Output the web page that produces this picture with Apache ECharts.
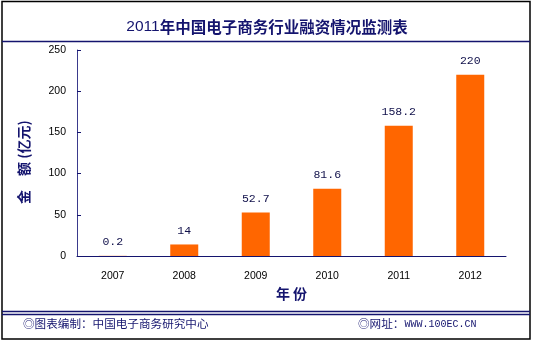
<!DOCTYPE html>
<html>
<head>
<meta charset="utf-8">
<script src="https://cdn.jsdelivr.net/npm/echarts@6/dist/echarts.min.js"></script>
<style>
html,body{margin:0;padding:0;background:#fff;}
#c{width:534px;height:343px;}
</style>
</head>
<body>
<div id="c"></div>
<script>
var categories = ['2007', '2008', '2009', '2010', '2011', '2012'];
var values = [0.2, 14, 52.7, 81.6, 158.2, 220];
var valueLabels = ['0.2', '14', '52.7', '81.6', '158.2', '220'];
var titleYear = '2011';
var titleRest = '年中国电子商务行业融资情况监测表';
var yName = '金　额 (亿元)';
var xName = '年 份';
var footLeft = '◎图表编制：中国电子商务研究中心';
var footRightCn = '◎网址：';
var footRightUrl = 'WWW.100EC.CN';

var navy = '#14146e';
var chart = echarts.init(document.getElementById('c'), null, {renderer: 'canvas'});
chart.setOption({
  animation: false,
  backgroundColor: '#ffffff',
  title: {
    text: '{a|' + titleYear + '}{b|' + titleRest + '}',
    left: 'center',
    top: 14,
    textStyle: {
      rich: {
        a: {fontFamily: 'Liberation Sans, Arial, sans-serif', fontSize: 15.5, color: navy, fontWeight: 'normal'},
        b: {fontFamily: 'Noto Sans CJK SC', fontSize: 15.5, color: navy, fontWeight: 'bold'}
      }
    }
  },
  grid: {left: 77, right: 28, top: 50, bottom: 87},
  xAxis: {
    type: 'category',
    data: categories,
    axisLine: {lineStyle: {color: navy, width: 1}},
    axisTick: {inside: true, length: 5, lineStyle: {color: navy}},
    axisLabel: {color: '#000', fontFamily: 'Liberation Sans, Arial, sans-serif', fontSize: 10.5, margin: 15},
    name: xName,
    nameLocation: 'middle',
    nameGap: 30,
    nameTextStyle: {color: navy, fontFamily: 'Noto Sans CJK SC', fontSize: 14, fontWeight: 'bold'}
  },
  yAxis: {
    type: 'value',
    min: 0, max: 250, interval: 50,
    axisLine: {show: true, lineStyle: {color: '#3a3a8c', width: 1}},
    axisTick: {show: true, inside: true, length: 4, lineStyle: {color: navy}},
    splitLine: {show: false},
    axisLabel: {color: '#000', fontFamily: 'Liberation Sans, Arial, sans-serif', fontSize: 10.5, margin: 11}
  },
  series: [{
    type: 'bar',
    data: values,
    barWidth: 28,
    itemStyle: {color: '#ff6600'},
    label: {
      show: true,
      position: 'top',
      distance: 8,
      color: '#10104a',
      fontFamily: 'Liberation Mono, DejaVu Sans Mono, monospace',
      fontSize: 11.5,
      formatter: function (p) { return valueLabels[p.dataIndex]; }
    }
  }],
  graphic: [
    {type: 'rect', shape: {x: 2, y: 1.5, width: 528, height: 337.5}, style: {fill: 'none', stroke: '#000', lineWidth: 1.5}, silent: true},
    {type: 'line', shape: {x1: 2, y1: 41.5, x2: 530, y2: 41.5}, style: {stroke: navy, lineWidth: 1.5}, silent: true},
    {type: 'line', shape: {x1: 2, y1: 311.5, x2: 530, y2: 311.5}, style: {stroke: navy, lineWidth: 1.3}, silent: true},
    {type: 'line', shape: {x1: 2, y1: 314.5, x2: 530, y2: 314.5}, style: {stroke: navy, lineWidth: 1.3}, silent: true},
    {type: 'text', x: 24, y: 162, rotation: Math.PI / 2,
      style: {text: yName, fill: navy, font: 'bold 14px "Noto Sans CJK SC"', textAlign: 'center', textVerticalAlign: 'middle'}},
    {type: 'text', x: 23, y: 324,
      style: {text: footLeft, fill: navy, font: '11.6px "Noto Sans CJK SC"', textAlign: 'left', textVerticalAlign: 'middle'}},
    {type: 'text', x: 358, y: 324,
      style: {
        text: '{a|' + footRightCn + '}{b|' + footRightUrl + '}',
        textVerticalAlign: 'middle',
        rich: {
          a: {fill: navy, fontFamily: 'Noto Sans CJK SC', fontSize: 11.6},
          b: {fill: navy, fontFamily: 'Liberation Mono, monospace', fontSize: 10}
        }
      }}
  ]
});
</script>
</body>
</html>
